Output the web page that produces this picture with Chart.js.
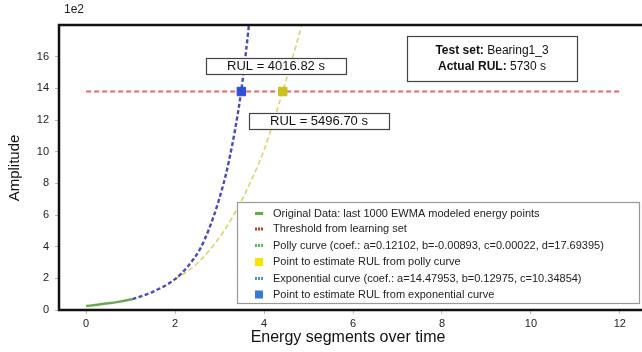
<!DOCTYPE html>
<html>
<head>
<meta charset="utf-8">
<script src="https://cdn.jsdelivr.net/npm/chart.js@4"></script>
<style>
  html, body { margin: 0; padding: 0; background: #fff; overflow: hidden; }
  #wrap { width: 650px; height: 352px; position: relative; }
</style>
</head>
<body>
<div id="wrap"><canvas id="chart"></canvas></div>
<script>
// Data (amplitude in units of 1e2)
const originalX = [0, 0.25, 0.5, 0.75, 1.04];
const originalY = [0.25, 0.33, 0.42, 0.53, 0.68];

const expX = [1.04, 1.5, 2.0, 2.3, 2.57, 2.76, 2.98, 3.21, 3.48, 3.66, 3.75];
const expY = [0.68, 1.15, 1.95, 2.8, 3.9, 5.1, 6.9, 9.4, 13.7, 18.0, 20.5];

const pollyX = [2.0, 2.4, 2.75, 3.1, 3.4, 3.7, 4.0, 4.42, 4.85, 4.95];
const pollyY = [1.95, 2.7, 3.7, 5.0, 6.4, 8.1, 10.1, 13.8, 18.0, 19.0];

const thresholdX = [0, 12];
const thresholdY = [13.8, 13.8];

const expPoint = [3.49, 13.8];
const pollyPoint = [4.42, 13.8];

const xTicks = [0, 2, 4, 6, 8, 10, 12];
const yTicks = [0, 2, 4, 6, 8, 10, 12, 14, 16];

const legendLabels = [
    'Original Data: last 1000 EWMA modeled energy points',
    'Threshold from learning set',
    'Polly curve (coef.: a=0.12102, b=-0.00893, c=0.00022, d=17.69395)',
    'Point to estimate RUL from polly curve',
    'Exponential curve (coef.: a=14.47953, b=0.12975, c=10.34854)',
    'Point to estimate RUL from exponential curve'
];

const FONT = "'Liberation Sans', Arial, sans-serif";

const toPoints = (xs, ys) => xs.map((x, i) => ({ x: x, y: ys[i] }));

// Frame, text boxes, legend and axis titles
const decorPlugin = {
    id: 'decor',
    afterDraw(chart) {
        const ctx = chart.ctx;
        const a = chart.chartArea;
        ctx.save();

        // spines (right spine is off the picture)
        ctx.strokeStyle = '#111';
        ctx.lineWidth = 2.5;
        ctx.beginPath();
        ctx.moveTo(a.right, a.top);
        ctx.lineTo(a.left, a.top);
        ctx.lineTo(a.left, a.bottom);
        ctx.lineTo(a.right, a.bottom);
        ctx.stroke();

        const box = (x, y, w, h, border) => {
            ctx.fillStyle = '#fff';
            ctx.fillRect(x, y, w, h);
            ctx.strokeStyle = border;
            ctx.lineWidth = 1.2;
            ctx.strokeRect(x + 0.5, y + 0.5, w, h);
        };

        // RUL boxes
        ctx.textBaseline = 'middle';
        ctx.textAlign = 'center';
        ctx.font = '13px ' + FONT;
        box(206, 58, 140, 16, '#444');
        ctx.fillStyle = '#111';
        ctx.fillText('RUL = 4016.82 s', 276, 66.5);
        box(249, 113, 140, 16, '#444');
        ctx.fillStyle = '#111';
        ctx.fillText('RUL = 5496.70 s', 319, 121.5);

        // Test set box
        box(407, 36, 170, 45, '#444');
        const line = (bold, normal, cx, cy) => {
            ctx.font = 'bold 12px ' + FONT;
            const w1 = ctx.measureText(bold).width;
            ctx.font = '12px ' + FONT;
            const w2 = ctx.measureText(normal).width;
            const start = cx - (w1 + w2) / 2;
            ctx.textAlign = 'left';
            ctx.fillStyle = '#111';
            ctx.font = 'bold 12px ' + FONT;
            ctx.fillText(bold, start, cy);
            ctx.font = '12px ' + FONT;
            ctx.fillText(normal, start + w1, cy);
        };
        line('Test set: ', 'Bearing1_3', 492, 51);
        line('Actual RUL: ', '5730 s', 492, 67);

        // Legend
        box(237, 202, 402, 101, '#999');
        const rows = [213.5, 229, 245.5, 262, 278.5, 294.5];
        ctx.textAlign = 'left';
        ctx.font = '11px ' + FONT;
        rows.forEach((ry, i) => {
            const sx = 255;
            if (i === 0) {
                ctx.fillStyle = '#6aaa4f';
                ctx.fillRect(sx, ry - 1.5, 8, 3);
            } else if (i === 1 || i === 2 || i === 4) {
                ctx.fillStyle = i === 1 ? '#c0392b' : (i === 2 ? '#5cb85c' : '#4a90d9');
                for (let k = 0; k < 3; k++) ctx.fillRect(sx + k * 3, ry - 1.5, 2, 3);
            } else {
                ctx.fillStyle = i === 3 ? '#f2e600' : '#3a78d8';
                ctx.fillRect(sx, ry - 4, 8, 8);
            }
            ctx.fillStyle = '#222';
            ctx.fillText(legendLabels[i], 273, ry);
        });

        // axis titles and offset label
        ctx.fillStyle = '#111';
        ctx.textAlign = 'center';
        ctx.font = '16px ' + FONT;
        ctx.fillText('Energy segments over time', 348, 338);
        ctx.save();
        ctx.translate(15, 168);
        ctx.rotate(-Math.PI / 2);
        ctx.font = '15px ' + FONT;
        ctx.fillText('Amplitude', 0, 0);
        ctx.restore();
        ctx.textAlign = 'left';
        ctx.font = '12px ' + FONT;
        ctx.fillStyle = '#222';
        ctx.fillText('1e2', 64, 10);

        ctx.restore();
    }
};

const ctx = document.getElementById('chart').getContext('2d');
new Chart(ctx, {
    type: 'scatter',
    data: {
        datasets: [
            {
                label: 'threshold',
                data: toPoints(thresholdX, thresholdY),
                showLine: true,
                borderColor: '#e06868',
                borderWidth: 2,
                borderDash: [5, 3],
                pointRadius: 0,
                order: 4
            },
            {
                label: 'polly',
                data: toPoints(pollyX, pollyY),
                showLine: true,
                borderColor: '#d9d56a',
                borderWidth: 1.6,
                borderDash: [5, 3],
                pointRadius: 0,
                cubicInterpolationMode: 'monotone',
                order: 3
            },
            {
                label: 'exponential',
                data: toPoints(expX, expY),
                showLine: true,
                borderColor: '#4a4ab8',
                borderWidth: 2.4,
                borderDash: [4, 2.5],
                pointRadius: 0,
                cubicInterpolationMode: 'monotone',
                order: 2
            },
            {
                label: 'original',
                data: toPoints(originalX, originalY),
                showLine: true,
                borderColor: '#6aaa4f',
                borderWidth: 2.5,
                pointRadius: 0,
                cubicInterpolationMode: 'monotone',
                order: 1
            },
            {
                label: 'polly point',
                data: [{ x: pollyPoint[0], y: pollyPoint[1] }],
                pointStyle: 'rect',
                pointRadius: 6,
                backgroundColor: '#c9c21e',
                borderColor: '#c9c21e',
                order: 0
            },
            {
                label: 'exp point',
                data: [{ x: expPoint[0], y: expPoint[1] }],
                pointStyle: 'rect',
                pointRadius: 6,
                backgroundColor: '#2f4fd6',
                borderColor: '#2f4fd6',
                order: 0
            }
        ]
    },
    options: {
        responsive: true,
        maintainAspectRatio: false,
        animation: false,
        layout: { padding: { top: 25, right: 0, left: 0, bottom: 0 } },
        plugins: {
            legend: { display: false },
            tooltip: { enabled: false }
        },
        scales: {
            x: {
                type: 'linear',
                min: -0.61,
                max: 12.52,
                afterBuildTicks: s => { s.ticks = xTicks.map(v => ({ value: v })); },
                afterFit: s => { s.height = 42; },
                border: { display: false },
                grid: { drawOnChartArea: false, tickLength: 4, color: '#bbb' },
                ticks: {
                    color: '#222',
                    font: { family: FONT, size: 11 },
                    padding: 3,
                    maxRotation: 0
                }
            },
            y: {
                type: 'linear',
                min: 0,
                max: 18,
                afterBuildTicks: s => { s.ticks = yTicks.map(v => ({ value: v })); },
                afterFit: s => { s.width = 59; },
                border: { display: false },
                grid: { drawOnChartArea: false, tickLength: 4, color: '#bbb' },
                ticks: {
                    color: '#222',
                    font: { family: FONT, size: 11 },
                    padding: 6
                }
            }
        }
    },
    plugins: [decorPlugin]
});
</script>
</body>
</html>
